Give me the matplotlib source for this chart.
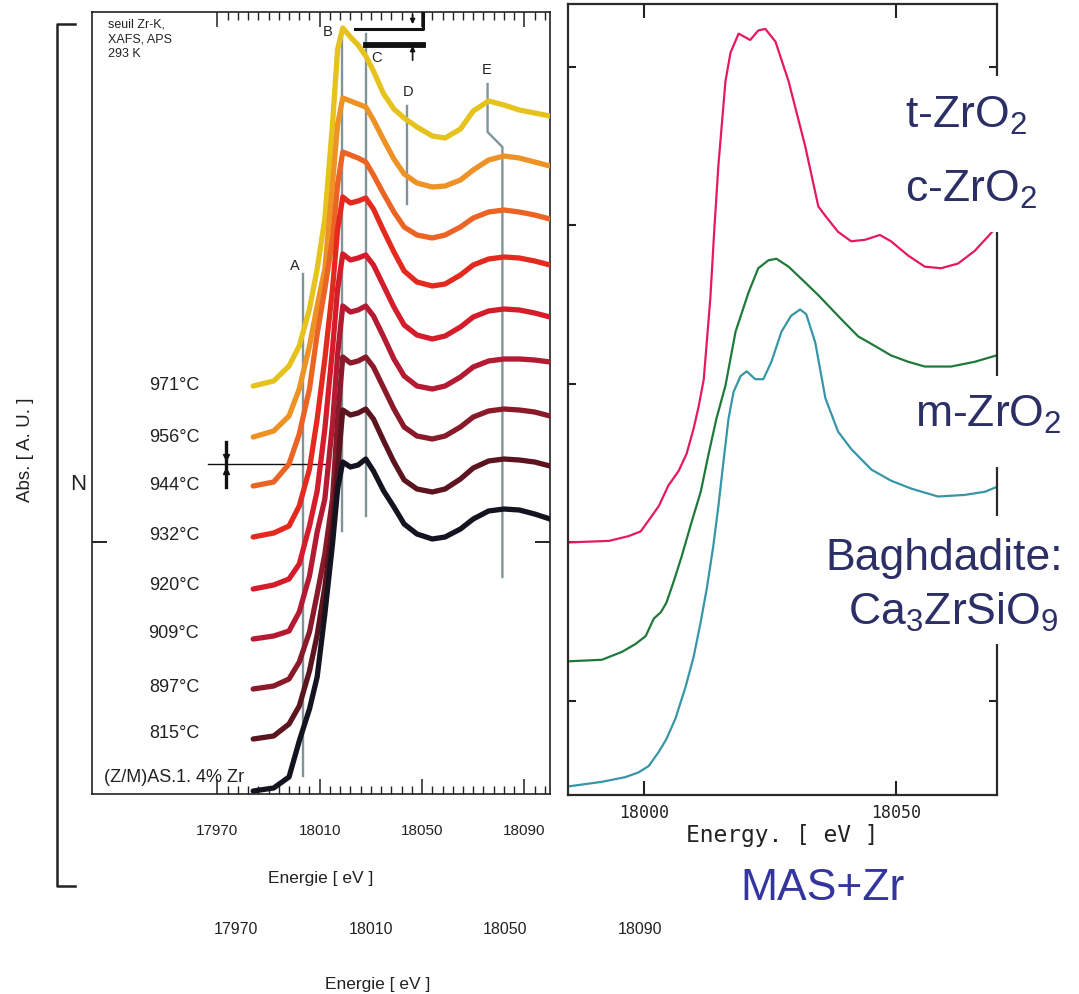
import matplotlib
matplotlib.use("Agg")
import matplotlib.pyplot as plt
from matplotlib.patches import Rectangle
import numpy as np

plt.rcParams["font.family"] = ["Liberation Sans", "DejaVu Sans"]
plt.rcParams["mathtext.default"] = "regular"

# ---- Zr K-edge XANES during heating (left panel) ----
energy_left = [17984, 17992, 17998, 18002, 18006, 18009, 18012, 18015, 18017,
               18019, 18022, 18025, 18028, 18031, 18035, 18039, 18043, 18048,
               18054, 18059, 18065, 18070, 18076, 18082, 18088, 18094, 18100]

abs_971 = [4.08, 4.13, 4.28, 4.48, 4.85, 5.25, 5.75, 6.70, 7.45, 7.66, 7.57, 7.49, 7.38, 7.23,
           7.00, 6.85, 6.76, 6.67, 6.58, 6.56, 6.65, 6.83, 6.93, 6.89, 6.84, 6.81, 6.78]
abs_956 = [3.57, 3.63, 3.78, 4.05, 4.48, 4.88, 5.25, 6.10, 6.70, 6.96, 6.93, 6.90, 6.87, 6.74,
           6.54, 6.35, 6.20, 6.11, 6.07, 6.08, 6.14, 6.24, 6.34, 6.38, 6.36, 6.32, 6.28]
abs_944 = [3.08, 3.12, 3.30, 3.60, 4.05, 4.60, 5.05, 5.55, 6.10, 6.42, 6.39, 6.36, 6.32, 6.19,
           6.00, 5.82, 5.67, 5.59, 5.56, 5.59, 5.67, 5.76, 5.82, 5.84, 5.82, 5.79, 5.75]
abs_932 = [2.57, 2.61, 2.68, 2.88, 3.25, 3.75, 4.35, 5.05, 5.65, 5.97, 5.91, 5.93, 5.96, 5.85,
           5.63, 5.42, 5.23, 5.12, 5.08, 5.10, 5.19, 5.29, 5.35, 5.37, 5.36, 5.33, 5.29]
abs_920 = [2.05, 2.09, 2.15, 2.30, 2.68, 3.03, 3.65, 4.45, 5.05, 5.40, 5.34, 5.36, 5.39, 5.29,
           5.08, 4.87, 4.69, 4.59, 4.55, 4.58, 4.67, 4.77, 4.83, 4.85, 4.84, 4.81, 4.77]
abs_909 = [1.55, 1.58, 1.63, 1.82, 2.18, 2.62, 2.95, 3.70, 4.40, 4.88, 4.82, 4.84, 4.88, 4.78,
           4.57, 4.35, 4.18, 4.08, 4.05, 4.08, 4.17, 4.27, 4.33, 4.35, 4.35, 4.34, 4.32]
abs_897 = [1.05, 1.08, 1.15, 1.32, 1.62, 2.00, 2.40, 2.95, 3.75, 4.37, 4.31, 4.33, 4.37, 4.27,
           4.06, 3.85, 3.67, 3.58, 3.55, 3.58, 3.67, 3.77, 3.83, 3.85, 3.84, 3.82, 3.78]
abs_815 = [0.55, 0.58, 0.70, 0.88, 1.23, 1.59, 2.07, 2.70, 3.25, 3.84, 3.79, 3.81, 3.85, 3.75,
           3.53, 3.32, 3.14, 3.05, 3.02, 3.05, 3.15, 3.26, 3.33, 3.35, 3.34, 3.32, 3.28]
abs_glass = [0.03, 0.06, 0.17, 0.53, 0.85, 1.17, 1.80, 2.50, 3.05, 3.32, 3.27, 3.29, 3.35, 3.23,
             3.03, 2.87, 2.70, 2.60, 2.55, 2.57, 2.65, 2.75, 2.83, 2.85, 2.84, 2.80, 2.75]

series_left = [abs_971, abs_956, abs_944, abs_932, abs_920, abs_909, abs_897, abs_815, abs_glass]
labels_left = ["971°C", "956°C", "944°C", "932°C", "920°C", "909°C", "897°C", "815°C",
               "(Z/M)AS.1. 4% Zr"]
label_levels = [4.09, 3.58, 3.09, 2.59, 2.10, 1.61, 1.08, 0.62, 0.17]
colors_left = ["#e6c21c", "#ee9226", "#ec6424", "#e42a1e", "#d41c2a",
               "#b41a32", "#8a1a2a", "#5c141e", "#141420"]

# ---- reference compounds (right panel) ----
energy_t = [17984.8, 17993.1, 17997.0, 17999.4, 18001.0, 18003.0, 18004.9, 18006.9, 18008.5,
            18009.9, 18010.9, 18011.9, 18013.2, 18014.0, 18014.8, 18016.2, 18017.2, 18018.8,
            18021.1, 18022.7, 18024.1, 18026.1, 18028.7, 18032.0, 18034.6, 18036.0, 18038.5,
            18041.1, 18043.9, 18046.8, 18049.0, 18052.4, 18055.7, 18058.9, 18062.3, 18065.6,
            18068.2, 18069.9]
abs_t = [1.00, 1.01, 1.04, 1.07, 1.14, 1.23, 1.36, 1.45, 1.56, 1.72, 1.86, 2.03, 2.54, 2.98,
         3.38, 3.91, 4.09, 4.21, 4.17, 4.23, 4.24, 4.16, 3.91, 3.50, 3.12, 3.06, 2.96, 2.90,
         2.91, 2.94, 2.90, 2.81, 2.74, 2.73, 2.76, 2.84, 2.93, 2.99]

energy_m = [17984.8, 17991.7, 17995.7, 17998.4, 18000.4, 18002.0, 18003.4, 18004.5, 18005.9,
            18007.5, 18009.5, 18011.3, 18012.8, 18014.4, 18016.2, 18018.2, 18020.8, 18022.7,
            18024.7, 18026.3, 18028.7, 18032.0, 18034.6, 18039.1, 18042.5, 18045.8, 18049.0,
            18052.4, 18055.7, 18060.9, 18065.6, 18069.9]
abs_m = [0.25, 0.26, 0.31, 0.36, 0.41, 0.52, 0.56, 0.62, 0.75, 0.91, 1.13, 1.32, 1.55, 1.78,
         1.99, 2.33, 2.58, 2.73, 2.78, 2.79, 2.74, 2.64, 2.56, 2.41, 2.30, 2.24, 2.18, 2.14,
         2.11, 2.11, 2.14, 2.18]

energy_b = [17984.8, 17991.7, 17996.4, 17999.0, 18001.0, 18003.0, 18004.5, 18006.3, 18008.3,
            18009.9, 18011.3, 18012.5, 18013.8, 18014.8, 18015.8, 18016.8, 18017.8, 18019.2,
            18020.4, 18022.1, 18023.7, 18025.3, 18027.3, 18029.2, 18031.0, 18032.2, 18034.0,
            18036.0, 18038.5, 18041.1, 18045.1, 18049.0, 18053.0, 18058.3, 18063.6, 18067.6,
            18069.9]
abs_b = [-0.54, -0.51, -0.48, -0.45, -0.41, -0.32, -0.24, -0.11, 0.09, 0.28, 0.50, 0.71, 0.98,
         1.23, 1.51, 1.78, 1.95, 2.05, 2.08, 2.03, 2.03, 2.14, 2.33, 2.43, 2.47, 2.44, 2.26,
         1.91, 1.70, 1.59, 1.46, 1.39, 1.34, 1.29, 1.30, 1.32, 1.35]

W, H = 1079, 995


def px_box(x0, y0, x1, y1):
    return [x0 / W, 1 - y1 / H, (x1 - x0) / W, (y1 - y0) / H]


fig = plt.figure(figsize=(W / 100, H / 100), dpi=100)

# ---------------- left panel ----------------
ax = fig.add_axes(px_box(92, 13, 550, 795))
for vals, col, lab, lev in zip(series_left, colors_left, labels_left, label_levels):
    ax.plot(energy_left, vals, color=col, lw=3.8, solid_capstyle="round",
            solid_joinstyle="round", zorder=3)
    ax.text(17953, lev, lab, ha="center", va="center", fontsize=13, color="#222", zorder=4)

guide = dict(color="#80949a", lw=1.7, zorder=2)
ax.plot([18003.4, 18003.4], [0.18, 5.20], **guide)
ax.plot([18018.6, 18018.6], [2.63, 7.65], **guide)
ax.plot([18028.0, 18028.0], [2.78, 7.60], **guide)
ax.plot([18044.3, 18044.3], [5.90, 6.88], **guide)
ax.plot([18075.6, 18075.6, 18081.4, 18081.4], [7.10, 6.62, 6.47, 2.17], **guide)
for txt, x, y in [("A", 18000.2, 5.29), ("B", 18013.1, 7.63), ("C", 18032.2, 7.37),
                  ("D", 18044.7, 7.03), ("E", 18075.2, 7.25)]:
    ax.text(x, y, txt, ha="center", va="center", fontsize=10.5, color="#222", zorder=4)

# edge-position brackets at the top
ax.plot([18023.7, 18050.2, 18050.2], [7.65, 7.65, 7.82], color="#111", lw=2.2, zorder=4)
ax.plot([18028.0, 18050.2], [7.49, 7.49], color="#111", lw=4.2, zorder=4)
arrow = dict(arrowstyle="-|>", color="#111", lw=1.2, mutation_scale=7)
ax.annotate("", xy=(18046.3, 7.67), xytext=(18046.3, 7.82), arrowprops=arrow, zorder=4)
ax.annotate("", xy=(18046.3, 7.51), xytext=(18046.3, 7.31), arrowprops=arrow, zorder=4)

# normalisation marker
ax.plot([17966.3, 18012.0], [3.30, 3.30], color="#111", lw=1.0, zorder=2)
ax.plot([17973.3, 17973.3], [3.07, 3.52], color="#111", lw=2.4, zorder=2)
ax.plot([17973.3], [3.37], marker="v", color="#111", ms=4, zorder=2)
ax.plot([17973.3], [3.23], marker="^", color="#111", ms=4, zorder=2)

ax.text(0.035, 0.993, "seuil Zr-K,\nXAFS, APS\n293 K", transform=ax.transAxes,
        ha="left", va="top", fontsize=9, linespacing=1.3, color="#222")

ax.set_xlim(17921, 18100)
ax.set_ylim(0, 7.82)
ax.set_xticks([17970, 18010, 18050, 18090])
ax.set_xticks(np.arange(17974, 18100, 4), minor=True)
ax.tick_params(axis="x", which="both", direction="in", top=True, bottom=True,
               labelsize=11, pad=21, colors="#222")
ax.tick_params(axis="x", which="major", length=11, width=1.1)
ax.tick_params(axis="x", which="minor", length=6, width=1.0)
ax.set_yticks([2.52])
ax.tick_params(axis="y", direction="in", left=True, right=True, length=11, width=1.2,
               labelleft=False)
for s in ax.spines.values():
    s.set_color("#222")
    s.set_linewidth(1.2)
ax.set_xlabel("Energie [ eV ]", fontsize=12.5, labelpad=24, color="#222")

# outer bracket and axis annotation
fig.add_artist(plt.Line2D([75 / W, 57 / W, 57 / W, 75 / W],
                          [1 - 25 / H, 1 - 25 / H, 1 - 887 / H, 1 - 887 / H],
                          transform=fig.transFigure, color="#222", lw=1.8))
fig.text(25 / W, 1 - 450 / H, "Abs. [ A. U. ]", rotation=90, ha="center", va="center",
         fontsize=13.5, color="#222")
fig.text(78 / W, 1 - 485 / H, "N", ha="center", va="center", fontsize=16, color="#222")

# second energy scale below
ax3 = fig.add_axes(px_box(236, 914, 640, 915))
ax3.set_xlim(17970, 18090)
ax3.set_xticks([17970, 18010, 18050, 18090])
ax3.set_yticks([])
ax3.tick_params(length=0, labelsize=11.5, pad=5, colors="#222")
for s in ax3.spines.values():
    s.set_visible(False)
ax3.patch.set_visible(False)
ax3.set_xlabel("Energie [ eV ]", fontsize=12.5, labelpad=29, color="#222",
               x=(378 - 236) / (640 - 236))

# ---------------- right panel ----------------
ax2 = fig.add_axes(px_box(568, 5, 997, 796))
ax2.plot(energy_t, abs_t, color="#e6195c", lw=1.6)
ax2.plot(energy_m, abs_m, color="#1f7a3a", lw=1.6)
ax2.plot(energy_b, abs_b, color="#3796a6", lw=1.6)
ax2.set_xlim(17985, 18070)
ax2.set_ylim(-0.593, 4.397)
ax2.set_xticks([18000, 18050])
ax2.set_yticks([0, 1, 2, 3, 4])
ax2.tick_params(direction="in", top=True, right=True, labelleft=False, length=6,
                width=1.5, colors="#222")
ax2.tick_params(axis="x", length=10, labelsize=12, pad=6,
                labelfontfamily="DejaVu Sans Mono")
for s in ax2.spines.values():
    s.set_color("#2a2a2a")
    s.set_linewidth(1.6)
ax2.set_xlabel("Energy. [ eV ]", fontfamily="DejaVu Sans Mono", fontsize=16.5,
               labelpad=1, color="#222")

# phase labels on white panels
for x0, y0, x1, y1 in [(893, 77, 1079, 233), (905, 377, 1079, 468), (815, 517, 1079, 645)]:
    fig.add_artist(Rectangle((x0 / W, 1 - y1 / H), (x1 - x0) / W, (y1 - y0) / H,
                             transform=fig.transFigure, facecolor="white",
                             edgecolor="none", zorder=5))

navy = "#2c2f66"
for txt, x, y, col in [("t-ZrO$_2$", 905, 128, navy), ("c-ZrO$_2$", 905, 202, navy),
                       ("m-ZrO$_2$", 915, 427, navy), ("Baghdadite:", 825, 570, navy),
                       ("Ca$_3$ZrSiO$_9$", 848, 625, navy), ("MAS+Zr", 740, 900, "#3535a0")]:
    fig.text(x / W, 1 - y / H, txt, ha="left", va="baseline", fontsize=32, color=col,
             zorder=6)

fig.savefig("out.png", dpi=100)
